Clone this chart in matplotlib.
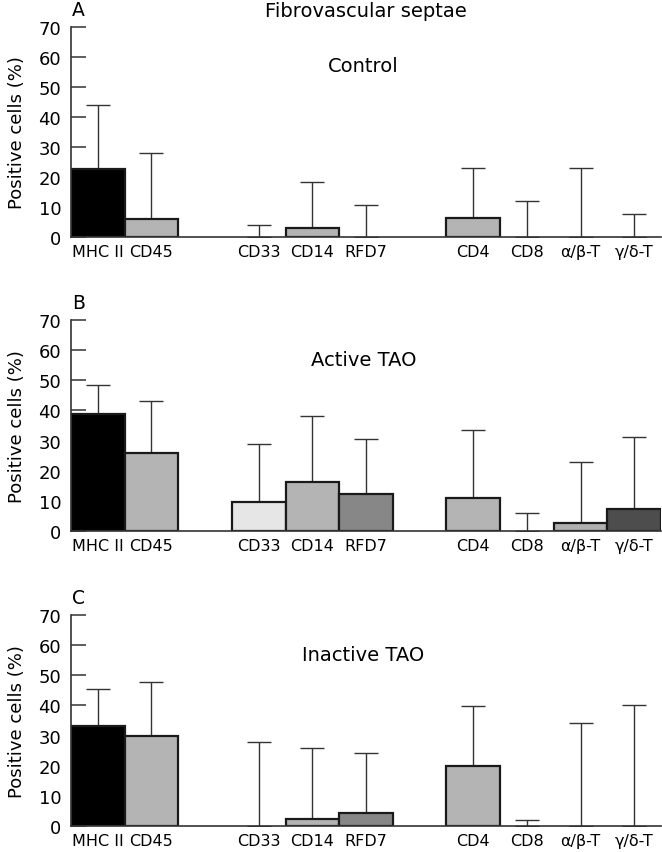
import matplotlib.pyplot as plt
import numpy as np

# categories and their slot on the x axis (gaps between groups)
markers = ["MHC II", "CD45", "CD33", "CD14", "RFD7", "CD4", "CD8", "α/β-T", "γ/δ-T"]
slots = [0, 1, 3, 4, 5, 7, 8, 9, 10]
bar_colors = ["#000000", "#b4b4b4", "#e6e6e6", "#b4b4b4", "#878787", "#b4b4b4", "#b4b4b4", "#b0b0b0", "#4d4d4d"]

# mean and upper error tip (%) per panel
control_mean = [22.5, 6, 0, 3, 0, 6.3, 0, 0, 0]
control_top = [44, 28, 4, 18.3, 10.7, 23, 11.9, 23, 7.7]
active_mean = [38.8, 26, 9.7, 16.4, 12.3, 10.9, 0, 2.8, 7.4]
active_top = [48.3, 43.2, 29, 38.2, 30.5, 33.6, 6.1, 22.9, 31.2]
inactive_mean = [33, 30, 0, 2.3, 4.2, 19.8, 0, 0, 0]
inactive_top = [45.3, 47.8, 27.8, 26, 24.3, 39.7, 2.1, 34.1, 40]

panels = [
    ("A", "Control", control_mean, control_top, [0.1073, 0.7210, 0.8912, 0.2462]),
    ("B", "Active TAO", active_mean, active_top, [0.1073, 0.3763, 0.8912, 0.2474]),
    ("C", "Inactive TAO", inactive_mean, inactive_top, [0.1073, 0.0305, 0.8912, 0.2474]),
]

plt.rcParams["font.family"] = ["DejaVu Sans"]

fig = plt.figure(figsize=(6.62, 8.53), dpi=100)

for letter, name, mean, top, rect in panels:
    ax = fig.add_axes(rect)
    mean = np.array(mean)
    err = np.array(top) - mean
    lws = [1.6 if m > 0 else 0 for m in mean]
    ax.bar(slots, mean, width=1.0, color=bar_colors, edgecolor="#1a1a1a",
           linewidth=lws, zorder=2)
    ax.errorbar(slots, mean, yerr=[np.zeros_like(err), err], fmt="none",
                ecolor="#333333", elinewidth=1.0, capsize=8.3, capthick=1.0, zorder=1)
    ax.set_xlim(-0.5, 10.5)
    ax.set_ylim(0, 70)
    ax.set_yticks(range(0, 71, 10))
    ax.set_xticks(slots)
    ax.set_xticklabels(markers, fontsize=11.5)
    for s in ["top", "right"]:
        ax.spines[s].set_visible(False)
    for s in ["left", "bottom"]:
        ax.spines[s].set_color("#333333")
        ax.spines[s].set_linewidth(1.2)
    ax.spines["bottom"].set_zorder(3)
    ax.tick_params(axis="y", direction="in", length=11, width=1.1, color="#333333",
                   labelsize=13, pad=7)
    ax.tick_params(axis="x", length=0, pad=5)
    ax.set_ylabel("Positive cells (%)", fontsize=13, labelpad=9)
    ax.text(-0.48, 72.5, letter, fontsize=13.5, ha="left", va="bottom")
    ax.text(4.95, 57, name, fontsize=14, ha="center", va="center")
    ax.patch.set_visible(False)

fig.text(0.553, 0.986, "Fibrovascular septae", fontsize=14, ha="center", va="center")

fig.savefig("out.png", dpi=100)
